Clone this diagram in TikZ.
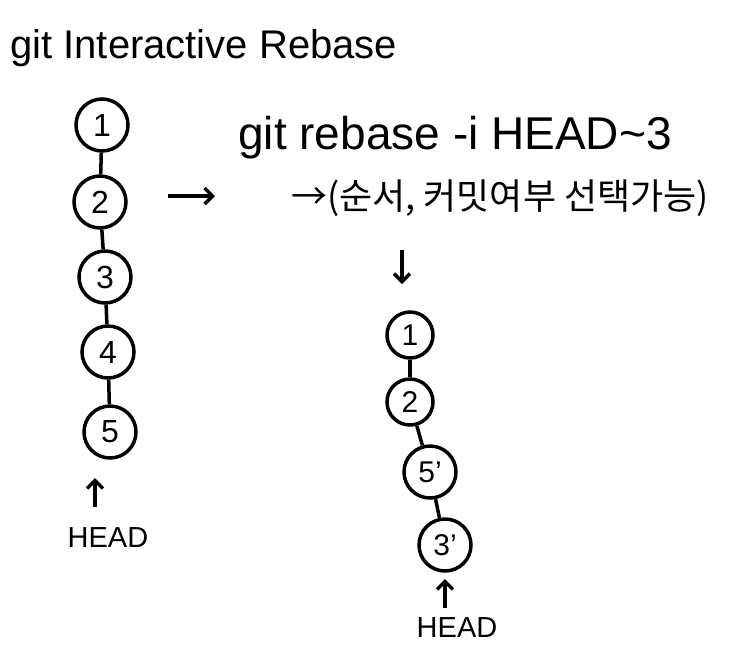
\documentclass[tikz,border=0pt]{standalone}
\usepackage{fontspec}
\setmainfont{Liberation Sans}
\newfontfamily\kofont{Noto Sans CJK KR}
\usetikzlibrary{arrows.meta}
\begin{document}
\begin{tikzpicture}[x=1pt,y=-1pt,
  commit/.style={draw,line width=3.5pt,circle,minimum size=52pt,inner sep=0pt,font=\fontsize{32}{34}\selectfont},
  scommit/.style={draw,line width=3.5pt,circle,minimum size=46pt,inner sep=0pt,font=\fontsize{30}{32}\selectfont},
  link/.style={line width=3.5pt},
  pointer/.style={line width=3.5pt,-{Straight Barb[length=8pt,width=16pt]}},
  lbl/.style={font=\fontsize{29}{31}\selectfont,inner sep=0pt}]
\useasboundingbox (0,0) rectangle (746,670);
\node[inner sep=0pt,anchor=west,font=\fontsize{40}{42}\selectfont] (title) at (10,48) {git Interactive Rebase};
% left column
\node[commit] (a1) at (102,125) {1};
\node[commit] (a2) at (100,202) {2};
\node[commit] (a3) at (105,277) {3};
\node[commit] (a4) at (108,352) {4};
\node[commit] (a5) at (110,432) {5};
\draw[link] (a1) -- (a2);
\draw[link] (a2) -- (a3);
\draw[link] (a3) -- (a4);
\draw[link] (a4) -- (a5);
\node[lbl] (h1) at (108,538) {HEAD};
\coordinate (p1s) at (95,507);
\coordinate (p1e) at (95,478);
\draw[pointer] (p1s) -- (p1e);
% command
\coordinate (arr1s) at (168,196);
\coordinate (arr1e) at (215,196);
\draw[pointer] (arr1s) -- (arr1e);
\node[inner sep=0pt,font=\fontsize{46}{48}\selectfont] (cmd) at (455,138) {git rebase -i HEAD\textasciitilde3};
\node[inner sep=0pt,font=\fontsize{36}{38}\selectfont] (opt) at (500,198) {\kofont →(순서, 커밋여부 선택가능)};
\coordinate (arr2s) at (402,250);
\coordinate (arr2e) at (402,284);
\draw[pointer] (arr2s) -- (arr2e);
% right column
\node[scommit] (b1) at (410,335) {1};
\node[scommit] (b2) at (410,402) {2};
\node[scommit,minimum size=52pt] (b5) at (430,472) {5'};
\node[scommit,minimum size=52pt] (b3) at (445,545) {3'};
\draw[link] (b1) -- (b2);
\draw[link] (b2) -- (b5);
\draw[link] (b5) -- (b3);
\node[lbl] (h2) at (457,628) {HEAD};
\coordinate (p2s) at (445,608);
\coordinate (p2e) at (445,579);
\draw[pointer] (p2s) -- (p2e);
\end{tikzpicture}
\end{document}
